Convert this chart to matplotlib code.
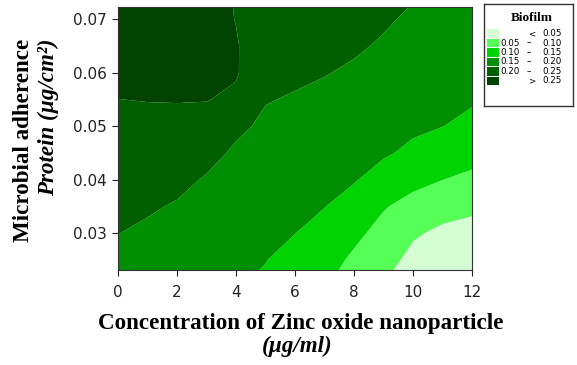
import numpy as np
import matplotlib
matplotlib.use("Agg")
import matplotlib.pyplot as plt
from matplotlib.patches import Rectangle

# ---- data ----
concentration = [0, 1, 2, 3, 4, 5, 6, 7, 8, 9, 10, 11, 12]          # ZnO NP (ug/ml)
protein = [0.020, 0.025, 0.030, 0.035, 0.040, 0.045, 0.050,
           0.055, 0.060, 0.065, 0.070, 0.075]                        # ug/cm2
biofilm = [
    [0.181, 0.174, 0.164, 0.157, 0.1517, 0.143, 0.1176, 0.1032, 0.076, 0.048, 0.0215, 0.005, 0.005],
    [0.1907, 0.184, 0.174, 0.167, 0.1601, 0.1513, 0.1343, 0.1194, 0.0918, 0.0674, 0.0373, 0.0222, 0.0192],
    [0.2006, 0.1934, 0.1845, 0.1767, 0.1686, 0.1597, 0.1506, 0.1355, 0.1109, 0.0847, 0.0558, 0.041, 0.0367],
    [0.2105, 0.2047, 0.1966, 0.1866, 0.1770, 0.1681, 0.1598, 0.1510, 0.1336, 0.1036, 0.0845, 0.0673, 0.0578],
    [0.2204, 0.2163, 0.2107, 0.1965, 0.1855, 0.1764, 0.1691, 0.1612, 0.1530, 0.1337, 0.1132, 0.1005, 0.0903],
    [0.2302, 0.2279, 0.2249, 0.2129, 0.1939, 0.1848, 0.1783, 0.1713, 0.1636, 0.1548, 0.1420, 0.1263, 0.1161],
    [0.2401, 0.2395, 0.2390, 0.2330, 0.2081, 0.1931, 0.1876, 0.1815, 0.1741, 0.1651, 0.1568, 0.1507, 0.1390],
    [0.2498, 0.2512, 0.2518, 0.2516, 0.2420, 0.2020, 0.1969, 0.1917, 0.1847, 0.1755, 0.1662, 0.1596, 0.1546],
    [0.258, 0.259, 0.259, 0.257, 0.254, 0.2134, 0.2068, 0.2016, 0.1953, 0.1859, 0.1756, 0.1684, 0.1635],
    [0.265, 0.266, 0.266, 0.262, 0.253, 0.2248, 0.2171, 0.2108, 0.2045, 0.1963, 0.1850, 0.1773, 0.1723],
    [0.270, 0.271, 0.271, 0.265, 0.249, 0.2361, 0.2274, 0.2200, 0.2125, 0.2045, 0.1944, 0.1861, 0.1812],
    [0.274, 0.275, 0.275, 0.267, 0.247, 0.2475, 0.2377, 0.2291, 0.2205, 0.2115, 0.2038, 0.195, 0.19],
]
levels = [0.05, 0.10, 0.15, 0.20, 0.25]
colors = ['#d4fdd4', '#55ff55', '#00d400', '#008f00', '#006000', '#004200']
x_ticks = [0, 2, 4, 6, 8, 10, 12]
y_ticks = [0.03, 0.04, 0.05, 0.06, 0.07]

# ---- figure ----
W, H = 577, 365
fig = plt.figure(figsize=(W / 100, H / 100), dpi=100)
ax = fig.add_axes([118 / W, 1 - 270 / H, (472 - 118) / W, (270 - 7.3) / H])

X, Y = np.meshgrid(concentration, protein)
Z = np.array(biofilm)
ax.contourf(X, Y, Z, levels=[-1] + levels + [1], colors=colors, antialiased=True)
ax.set_xlim(0, 12)
ax.set_ylim(0.0231, 0.0722)
ax.set_xticks(x_ticks)
ax.set_yticks(y_ticks)
ax.set_yticklabels([f"{v:.2f}" for v in y_ticks])
ax.tick_params(direction='out', length=4, width=0.8, labelsize=11, colors='#222222')
ax.tick_params(axis='x', pad=7)
ax.tick_params(axis='y', pad=4)
for s in ax.spines.values():
    s.set_linewidth(0.8)
    s.set_color('#333333')
for lab in ax.get_xticklabels() + ax.get_yticklabels():
    lab.set_family('DejaVu Sans')

# axis titles
serif = 'Liberation Serif'
tfs = 16.6
fig.text(301 / W, 1 - 323 / H, "Concentration of Zinc oxide nanoparticle",
         ha='center', va='center', family=serif, weight='bold', fontsize=tfs)
fig.text(297 / W, 1 - 346 / H, "(\u00b5g/ml)", ha='center', va='center',
         family=serif, weight='bold', style='italic', fontsize=tfs)
fig.text(24 / W, 1 - 39 / H, "Microbial adherence", rotation=90, ha='center', va='top',
         family=serif, weight='bold', fontsize=tfs)
fig.text(48 / W, 1 - 39 / H, "Protein (\u00b5g/cm\u00b2)", rotation=90, ha='center', va='top',
         family=serif, weight='bold', style='italic', fontsize=tfs)

# legend box
lx0, ly0, lw, lh = 484, 4, 89, 102
lax = fig.add_axes([lx0 / W, 1 - (ly0 + lh) / H, lw / W, lh / H])
lax.set_xlim(0, lw)
lax.set_ylim(lh, 0)
lax.set_xticks([])
lax.set_yticks([])
for s in lax.spines.values():
    s.set_linewidth(1.0)
    s.set_color('#333333')
lax.text(48, 14, "Biofilm", ha='center', va='center', family=serif, weight='bold', fontsize=9.5)
fs = 6.3
for i, c in enumerate(colors):
    yc = 29.5 + i * 9.5
    lax.add_patch(Rectangle((3, yc - 4.2), 12, 8.4, facecolor=c, edgecolor='none'))
    if i == 0:
        lax.text(48, yc, "<", ha='center', va='center', fontsize=fs)
        lax.text(78, yc, f"{levels[0]:.2f}", ha='right', va='center', fontsize=fs)
    elif i == len(colors) - 1:
        lax.text(48, yc, ">", ha='center', va='center', fontsize=fs)
        lax.text(78, yc, f"{levels[-1]:.2f}", ha='right', va='center', fontsize=fs)
    else:
        lax.text(36, yc, f"{levels[i - 1]:.2f}", ha='right', va='center', fontsize=fs)
        lax.text(45, yc, "\u2013", ha='center', va='center', fontsize=fs)
        lax.text(78, yc, f"{levels[i]:.2f}", ha='right', va='center', fontsize=fs)

fig.savefig("out.png", dpi=100)
